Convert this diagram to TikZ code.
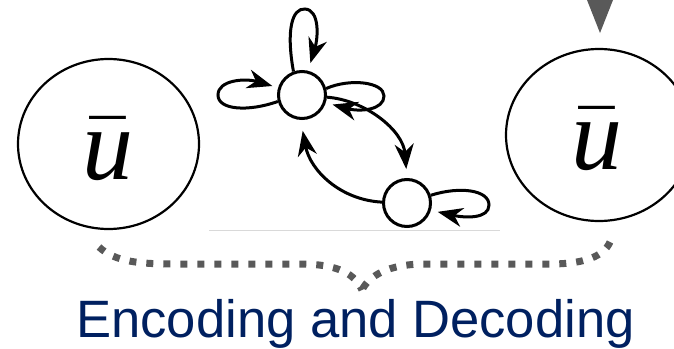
\documentclass[tikz,border=0pt]{standalone}
\usepackage{fontspec}
\newfontfamily\labelfont{Liberation Sans}
\newfontfamily\uletter{Liberation Serif}
\usetikzlibrary{arrows.meta,shapes.geometric}
\definecolor{navy}{HTML}{002060}
\definecolor{dgray}{HTML}{595959}
\newcommand{\ubarsym}{\scalebox{10.2}{$\bar{\hbox{\uletter\itshape u}}$}}
\begin{document}
\begin{tikzpicture}[x=1pt,y=-1pt,
  bigell/.style={draw=black,line width=2.2pt,ellipse,inner sep=0pt},
  ubar/.style={inner sep=0pt},
  state/.style={draw=black,line width=3pt,circle,minimum size=47pt,inner sep=0pt,fill=white},
  edge/.style={line width=3pt,-{Stealth[length=25pt,width=19pt,inset=8pt]}},
  brace/.style={draw=dgray,line width=7pt,dash pattern=on 7pt off 10pt},
  ]
\useasboundingbox (0,0) rectangle (674,348);

% big ellipses with u-bar
\node[bigell,minimum width=181pt,minimum height=170pt] (L) at (108.5,144) {};
\node[bigell,minimum width=186pt,minimum height=172pt] (R) at (599,135) {};
\node[ubar,anchor=base] (Lu) at (108,179) {\ubarsym};
\node[ubar,anchor=base] (Ru) at (597,169) {\ubarsym};

% triangle marker
\fill[dgray] (587,0) -- (613,0) -- (600,33) -- cycle;

% light rule under the graph
\draw[black!15,line width=1pt] (209,230) -- (500,230);

% small state graph
\node[state] (A) at (302,95) {};
\node[state] (B) at (407,203) {};

\draw[edge,shorten >=8pt] (A.110) .. controls (286,30) and (292,8) .. (305,9)
      .. controls (320,10) and (318,38) .. (A.76);
\draw[edge,shorten >=6pt] (A.195) .. controls (248,112) and (218,110) .. (218,95)
      .. controls (218,80) and (245,78) .. (A.163);
\draw[edge,shorten >=7pt] (A.15) .. controls (350,78) and (384,82) .. (384,96)
      .. controls (384,110) and (360,112) .. (A.-18);
\draw[edge,shorten >=9pt] (A.-5) .. controls (365,100) and (403,130) .. (B.90);
\draw[edge,shorten >=11pt] (B.178) .. controls (340,200) and (310,170) .. (A.-93);
\draw[edge,shorten >=7pt] (B.18) .. controls (460,186) and (489,190) .. (489,205)
      .. controls (489,219) and (465,218) .. (B.-17);

% dotted brace
\coordinate (bl) at (99,247);
\coordinate (bm) at (362,290);
\coordinate (br) at (610,242);
\draw[brace] (bl) .. controls (115,262) and (140,264) .. (175,264) -- (300,264)
      .. controls (338,264) and (355,274) .. (bm);
\draw[brace] (br) .. controls (604,256) and (585,264) .. (550,264) -- (425,264)
      .. controls (388,264) and (369,276) .. (bm);

% caption
\node[font=\labelfont\fontsize{52.6}{60}\selectfont,text=navy,anchor=base,inner sep=0pt] (cap) at (355.5,337) {Encoding and Decoding};
\end{tikzpicture}
\end{document}
